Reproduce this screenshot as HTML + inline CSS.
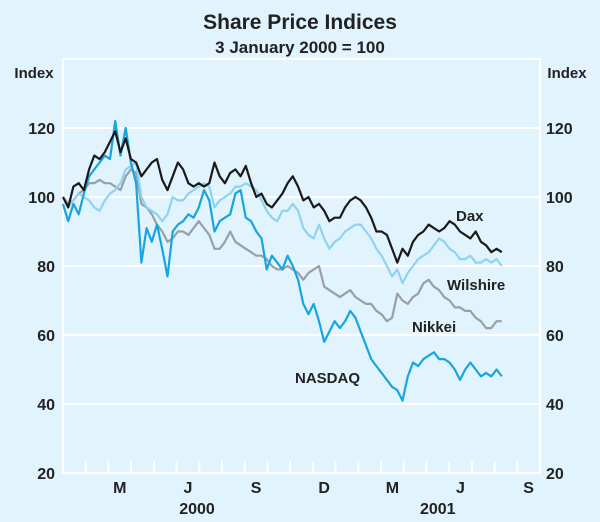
<!DOCTYPE html>
<html><head><meta charset="utf-8"><style>
html,body{margin:0;padding:0;background:#e1f3fc;}
svg{display:block;font-family:"Liberation Sans",Arial,sans-serif;}
</style></head><body>
<svg id="chart" width="600" height="522" viewBox="0 0 600 522">
<rect x="0" y="0" width="600" height="522" fill="#e1f3fc"/>
<text x="300" y="29" text-anchor="middle" font-size="21" font-weight="bold" fill="#222">Share Price Indices</text>
<text x="300" y="53" text-anchor="middle" font-size="17" font-weight="bold" fill="#222">3 January 2000 = 100</text>
<text x="34" y="78" text-anchor="middle" font-size="15" font-weight="bold" fill="#222">Index</text>
<text x="567" y="78" text-anchor="middle" font-size="15" font-weight="bold" fill="#222">Index</text>
<g id="grid"></g>
<g id="series"></g>
<text x="456" y="221" font-size="15" font-weight="bold" fill="#222">Dax</text>
<text x="447" y="290" font-size="15" font-weight="bold" fill="#222">Wilshire</text>
<text x="412" y="332" font-size="15" font-weight="bold" fill="#222">Nikkei</text>
<text x="295" y="383" font-size="15" font-weight="bold" fill="#222">NASDAQ</text>
</svg>
<script>
const yTicks = [20, 40, 60, 80, 100, 120];
const monthLabels = ["M","J","S","D","M","J","S"];
const monthLabelIdx = [2,5,8,11,14,17,20];
const yearLabels = ["2000","2001"];
const yearLabelMonth = [5.9,16.5];
const dax = [100,97,103,104,102,108,112,111,113,116,119,113,117,111,110,106,108,110,111,105,102,106,110,108,104,103,104,103,104,110,106,104,107,108,106,109,104,100,101,98,97,99,101,104,106,103,99,100,97,98,96,93,94,94,97,99,100,99,97,94,90,90,89,85,81,85,83,87,89,90,92,91,90,91,93,92,90,89,88,90,87,86,84,85,84];
const wilshire = [100,97,99,101,100,99,97,96,99,101,102,104,108,109,110,100,97,96,95,93,95,100,99,99,101,102,103,104,103,97,99,100,101,103,103,104,103,102,99,96,94,93,96,96,98,96,91,89,88,92,88,85,87,88,90,91,92,92,90,88,85,83,80,77,79,75,78,80,82,83,84,86,88,87,85,84,82,82,83,81,81,82,81,82,80];
const nikkei = [100,98,99,101,102,104,104,105,104,104,103,102,106,108,107,98,97,95,92,90,87,88,90,90,89,91,93,91,89,85,85,87,90,87,86,85,84,83,83,82,80,79,79,80,79,78,76,78,79,80,74,73,72,71,72,73,71,70,69,69,67,66,64,65,72,70,69,71,72,75,76,74,73,71,70,68,68,67,67,65,64,62,62,64,64];
const nasdaq = [98,93,98,95,101,106,108,110,112,111,122,112,120,110,104,81,91,87,92,85,77,90,92,93,95,94,97,102,99,90,93,94,95,101,102,94,93,90,88,79,83,81,79,83,80,76,69,66,69,64,58,61,64,62,64,67,65,61,57,53,51,49,47,45,44,41,48,52,51,53,54,55,53,53,52,50,47,50,52,50,48,49,48,50,48];

const NS="http://www.w3.org/2000/svg";
const L=63,R=540,T=59,B=473,MONTHS=21;
const monthW=(R-L)/MONTHS;
const weekW=monthW*12/52.18;
function yS(v){return B-(v-20)*(B-T)/120;}
function xW(i){return L+i*weekW;}
function xM(m){return L+m*monthW;}
function mk(tag,attrs,parent){const e=document.createElementNS(NS,tag);for(const k in attrs)e.setAttribute(k,attrs[k]);parent.appendChild(e);return e;}
const grid=document.getElementById('grid');
const frame=mk('rect',{x:L,y:T,width:R-L,height:B-T,fill:'none',stroke:'#fff','stroke-width':2},grid);


yTicks.forEach(v=>{
  const ln=mk('line',{x1:L,x2:R,y1:yS(v),y2:yS(v),stroke:'#fff','stroke-width':2},grid);
  
  
  const t1=mk('text',{x:L-8,y:yS(v)+6,'text-anchor':'end','font-size':16,'font-weight':'bold',fill:'#222'},grid);
  t1.textContent=v;
  
  
  const t2=mk('text',{x:R+6,y:yS(v)+6,'text-anchor':'start','font-size':16,'font-weight':'bold',fill:'#222'},grid);
  t2.textContent=v;
  
  
});
for(let m=1;m<MONTHS;m++){
  const tk=mk('line',{x1:xM(m),x2:xM(m),y1:B,y2:B-12,stroke:'#fff','stroke-width':2},grid);
  
  
}
monthLabels.forEach((lab,i)=>{
  const t=mk('text',{x:xM(monthLabelIdx[i]+0.5),y:B+20,'text-anchor':'middle','font-size':16,'font-weight':'bold',fill:'#222'},grid);
  t.textContent=lab;
  
  
});
yearLabels.forEach((lab,i)=>{
  const t=mk('text',{x:xM(yearLabelMonth[i]),y:B+41,'text-anchor':'middle','font-size':16,'font-weight':'bold',fill:'#222'},grid);
  t.textContent=lab;
  
  
});
const sg=document.getElementById('series');
function line(arr,color,name){
  const d=arr.map((v,i)=>(i?'L':'M')+xW(i).toFixed(1)+' '+yS(v).toFixed(1)).join(' ');
  const p=mk('path',{d:d,fill:'none',stroke:color,'stroke-width':2.2,'stroke-linejoin':'round'},sg);
  
  
}
line(nikkei,'#9a9fa4','nikkei-line');
line(wilshire,'#8ed3f4','wilshire-line');
line(nasdaq,'#17a5e0','nasdaq-line');
line(dax,'#1a1a1a','dax-line');
</script>
</body></html>
